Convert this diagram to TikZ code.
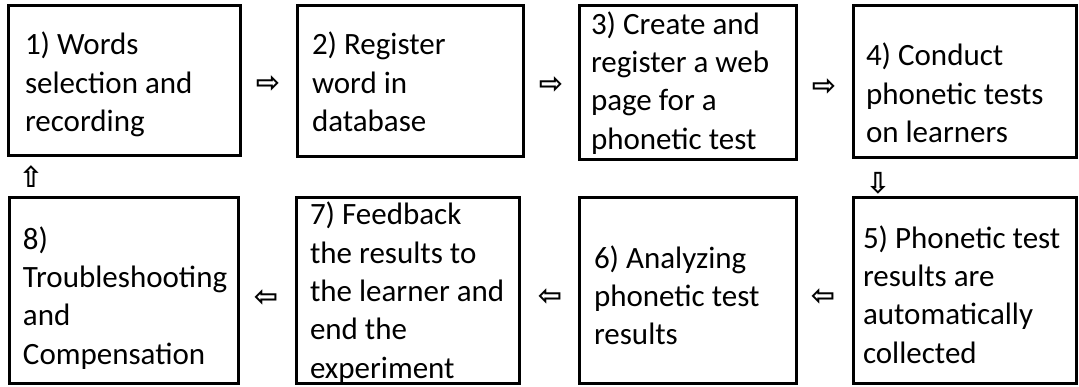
\documentclass[tikz,border=0pt]{standalone}
\usepackage{fontspec}
\setmainfont{Carlito}
\newfontfamily\arrowfont{DejaVu Sans}[BoldFont={DejaVu Sans Bold}]
\usetikzlibrary{calc}
\begin{document}
\begin{tikzpicture}[x=1pt,y=-1pt,
  box/.style={draw, line width=3pt, inner sep=0pt, outer sep=0pt, anchor=north west},
  txt/.style={anchor=north west, inner sep=0pt, outer sep=0pt, align=left, font=\fontsize{31}{38.3}\selectfont},
  arr/.style={inner sep=0pt, font=\arrowfont\bfseries\fontsize{29}{29}\selectfont}]
\useasboundingbox[fill=white] (0,0) rectangle (1079,387);
% boxes
\node[box, minimum width=232pt, minimum height=150pt] (b1) at (8,6) {};
\node[box, minimum width=226pt, minimum height=151pt] (b2) at (297,6) {};
\node[box, minimum width=217pt, minimum height=154pt] (b3) at (579,6) {};
\node[box, minimum width=223pt, minimum height=152pt] (b4) at (853,6) {};
\node[box, minimum width=223pt, minimum height=185pt] (b5) at (853,198) {};
\node[box, minimum width=217pt, minimum height=185pt] (b6) at (579,198) {};
\node[box, minimum width=223pt, minimum height=185pt] (b7) at (296,198) {};
\node[box, minimum width=229pt, minimum height=185pt] (b8) at (9,198) {};
% texts
\node[txt] (t1) at (25,28) {\strut 1) Words\\selection and\\recording};
\node[txt] (t2) at (312,28) {\strut 2) Register\\word in\\database};
\node[txt] (t3) at (591,7.5) {\strut 3) Create and\\register a web\\page for a\\phonetic test};
\node[txt] (t4) at (866,39) {\strut 4) Conduct\\phonetic tests\\on learners};
\node[txt] (t5) at (863,221.5) {\strut 5) Phonetic test\\results are\\automatically\\collected};
\node[txt] (t6) at (594,241.5) {\strut 6) Analyzing\\phonetic test\\results};
\node[txt] (t7) at (310,198) {\strut 7) Feedback\\the results to\\the learner and\\end the\\experiment};
\node[txt] (t8) at (23,222.5) {\strut 8)\\Troubleshooting\\and\\Compensation};
% arrows
\node[arr] (a12) at (268,84) {⇨};
\node[arr] (a23) at (551,85) {⇨};
\node[arr] (a34) at (824,87) {⇨};
\node[arr] (a45) at (878,183) {⇩};
\node[arr] (a56) at (823,297) {⇦};
\node[arr] (a67) at (550,297) {⇦};
\node[arr] (a78) at (266,298) {⇦};
\node[arr] (a81) at (31,177) {⇧};
\end{tikzpicture}
\end{document}
